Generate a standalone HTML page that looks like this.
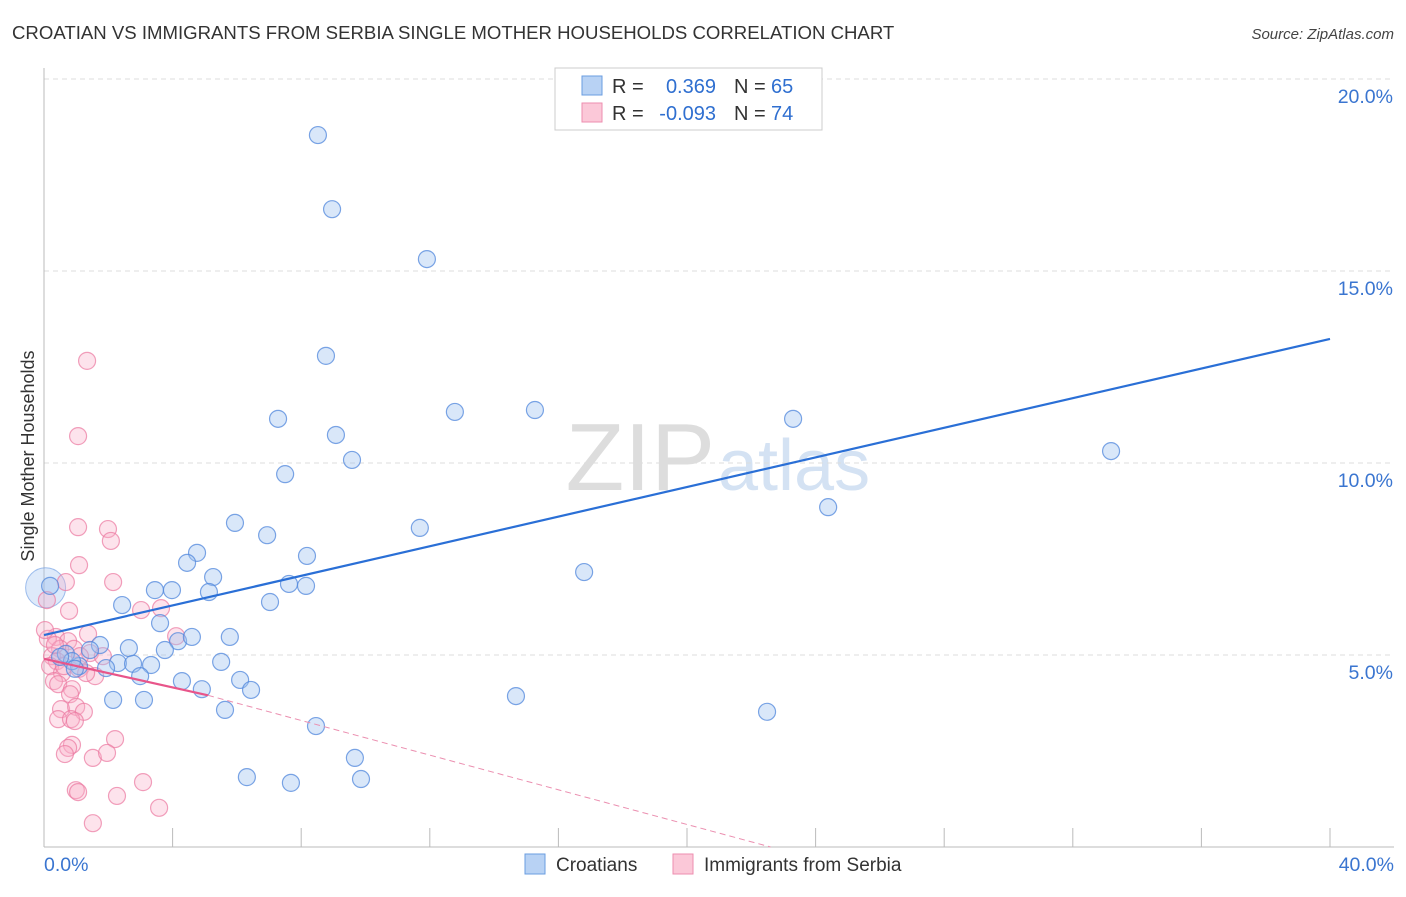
<!DOCTYPE html>
<html><head><meta charset="utf-8"><style>
body{margin:0;background:#fff;font-family:"Liberation Sans",sans-serif;}
svg text{font-family:"Liberation Sans",sans-serif;}
</style></head><body>
<svg id="chart" width="1406" height="892" xmlns="http://www.w3.org/2000/svg">
<text x="12" y="39" font-size="18.6" fill="#333">CROATIAN VS IMMIGRANTS FROM SERBIA SINGLE MOTHER HOUSEHOLDS CORRELATION CHART</text>
<text x="1394" y="39" font-size="15" fill="#444" text-anchor="end" font-style="italic">Source: ZipAtlas.com</text>
<text x="715" y="490" font-size="96" text-anchor="end" fill="#ddd" font-family="Liberation Serif">ZIP</text>
<text x="718" y="490" font-size="72" fill="#d4e2f3">atlas</text>
<g id="grid"></g><g id="axes"></g><g id="pts"></g><g id="lines"></g>
<text transform="translate(34,456) rotate(-90)" font-size="18" fill="#333" text-anchor="middle">Single Mother Households</text>
<g>
<rect x="555" y="68" width="267" height="62" fill="#fff" stroke="#ccc"/>
<rect x="582" y="76" width="20" height="19" fill="#b8d2f4" stroke="#6a9de0"/>
<rect x="582" y="103" width="20" height="19" fill="#fbc8d8" stroke="#ee8eaf"/>
<text x="612" y="93" font-size="20" fill="#333">R =</text><text x="716" y="93" font-size="20" fill="#2f6fd0" text-anchor="end">0.369</text>
<text x="734" y="93" font-size="20" fill="#333">N =</text><text x="771" y="93" font-size="20" fill="#2f6fd0">65</text>
<text x="612" y="120" font-size="20" fill="#333">R =</text><text x="716" y="120" font-size="20" fill="#2f6fd0" text-anchor="end">-0.093</text>
<text x="734" y="120" font-size="20" fill="#333">N =</text><text x="771" y="120" font-size="20" fill="#2f6fd0">74</text>
</g>
<g>
<rect x="525" y="854" width="20" height="20" fill="#b8d2f4" stroke="#6a9de0"/>
<text x="556" y="871" font-size="19" fill="#333">Croatians</text>
<rect x="673" y="854" width="20" height="20" fill="#fbc8d8" stroke="#ee8eaf"/>
<text x="704" y="871" font-size="19" fill="#333">Immigrants from Serbia</text>
</g>
</svg>
<script>
const NS="http://www.w3.org/2000/svg";
const xTickVals=[0,4,8,12,16,20,24,28,32,36,40];
const yTickVals=[5,10,15,20];
const yTickLabels=["5.0%","10.0%","15.0%","20.0%"];
const blueX=[8.52,8.96,11.91,8.77,7.28,12.78,15.27,9.08,9.58,23.30,33.19,7.50,24.39,5.94,6.94,11.69,4.76,4.45,8.18,5.26,3.45,3.98,5.13,7.62,8.15,16.80,2.43,7.03,3.61,4.17,4.60,5.78,2.64,1.74,1.43,3.76,2.30,2.77,3.33,1.93,1.09,5.51,2.99,4.29,6.10,6.44,4.91,2.15,3.11,5.63,14.68,22.49,8.46,9.67,6.31,7.68,9.86,0.68,0.87,0.50,0.19,0.96];
const blueY=[18.54,16.61,15.31,12.79,11.15,11.33,11.38,10.73,10.08,11.15,10.31,9.71,8.85,8.44,8.12,8.31,7.66,7.40,7.58,7.03,6.69,6.69,6.64,6.85,6.80,7.16,6.30,6.38,5.83,5.36,5.47,5.47,5.18,5.26,5.13,5.13,4.79,4.77,4.74,4.66,4.71,4.82,4.45,4.32,4.35,4.09,4.11,3.83,3.83,3.57,3.93,3.52,3.15,2.32,1.82,1.67,1.77,5.03,4.84,4.95,6.80,4.64];
const pinkX=[1.34,1.06,1.06,1.99,2.08,1.09,2.15,0.68,0.09,0.78,3.02,3.64,4.11,1.37,0.37,0.75,0.12,0.50,0.93,0.25,1.43,1.83,0.40,1.09,0.19,0.56,1.59,0.31,0.44,0.87,1.31,0.81,0.53,1.00,1.24,0.44,0.84,0.96,2.21,0.87,0.75,0.65,1.52,1.96,3.08,0.99,1.06,2.27,3.58,1.52,0.03,0.34,0.62,1.12];
const pinkY=[12.66,10.70,8.33,8.28,7.97,7.34,6.90,6.90,6.43,6.15,6.17,6.22,5.49,5.55,5.47,5.36,5.42,5.16,5.16,4.97,5.05,4.97,4.84,4.64,4.71,4.53,4.45,4.32,4.24,4.11,4.53,3.98,3.59,3.65,3.52,3.33,3.33,3.28,2.81,2.66,2.58,2.42,2.32,2.45,1.69,1.48,1.43,1.33,1.02,0.62,5.65,5.26,4.71,4.97];
const blueBig={x:0.05,y:6.75};
const blueTrend=[[0,5.52],[40,13.23]];
const pinkTrend=[[0,4.9],[5.1,3.95],[22.6,0]];
const X=v=>44+v*32.15, Y=v=>847-v*38.4;
function el(t,a,p){const e=document.createElementNS(NS,t);for(const k in a)e.setAttribute(k,a[k]);document.getElementById(p).appendChild(e);return e;}
yTickVals.forEach((v,i)=>{
 const g=el("line",{x1:44,x2:1394,y1:Y(v),y2:Y(v),stroke:"#ddd","stroke-dasharray":"5,4"},"grid");
 
 
 const t=el("text",{x:1393,y:Y(v)+24,"font-size":19.5,fill:"#3a75d0","text-anchor":"end"},"axes");t.textContent=yTickLabels[i];
 
 
});
const ax=el("line",{x1:44,x2:44,y1:68,y2:847,stroke:"#bbb"},"axes");


const bx=el("line",{x1:44,x2:1394,y1:847,y2:847,stroke:"#bbb"},"axes");


xTickVals.forEach(v=>{
 const t=el("line",{x1:X(v),x2:X(v),y1:828,y2:847,stroke:"#bbb"},"axes");
 
 
});
[[0,"0.0%","start"],[40,"40.0%","end"]].forEach(([v,s,a])=>{
 const t=el("text",{x:v==0?44:1394,y:871,"font-size":19.5,fill:"#3a75d0","text-anchor":a},"axes");t.textContent=s;
 
 
});
const bb=el("circle",{cx:X(blueBig.x),cy:Y(blueBig.y),r:20,fill:"rgba(160,195,240,0.35)",stroke:"rgba(100,150,225,0.6)"},"pts");


pinkX.forEach((x,i)=>{
 const c=el("circle",{cx:X(x),cy:Y(pinkY[i]),r:8.5,fill:"rgba(248,175,200,0.35)",stroke:"rgba(235,120,160,0.7)","stroke-width":1.2},"pts");
 
 
});
blueX.forEach((x,i)=>{
 const c=el("circle",{cx:X(x),cy:Y(blueY[i]),r:8.5,fill:"rgba(160,195,240,0.4)",stroke:"rgba(80,135,220,0.75)","stroke-width":1.2},"pts");
 
 
});
const bl=el("line",{x1:X(blueTrend[0][0]),y1:Y(blueTrend[0][1]),x2:X(blueTrend[1][0]),y2:Y(blueTrend[1][1]),stroke:"#2a6fd6","stroke-width":2.2},"lines");


const pl=el("line",{x1:X(pinkTrend[0][0]),y1:Y(pinkTrend[0][1]),x2:X(pinkTrend[1][0]),y2:Y(pinkTrend[1][1]),stroke:"#e8558a","stroke-width":2.2},"lines");


const pd=el("line",{x1:X(pinkTrend[1][0]),y1:Y(pinkTrend[1][1]),x2:X(pinkTrend[2][0]),y2:Y(pinkTrend[2][1]),stroke:"#eb8fb0","stroke-width":1,"stroke-dasharray":"6,4"},"lines");


</script>
</body></html>
